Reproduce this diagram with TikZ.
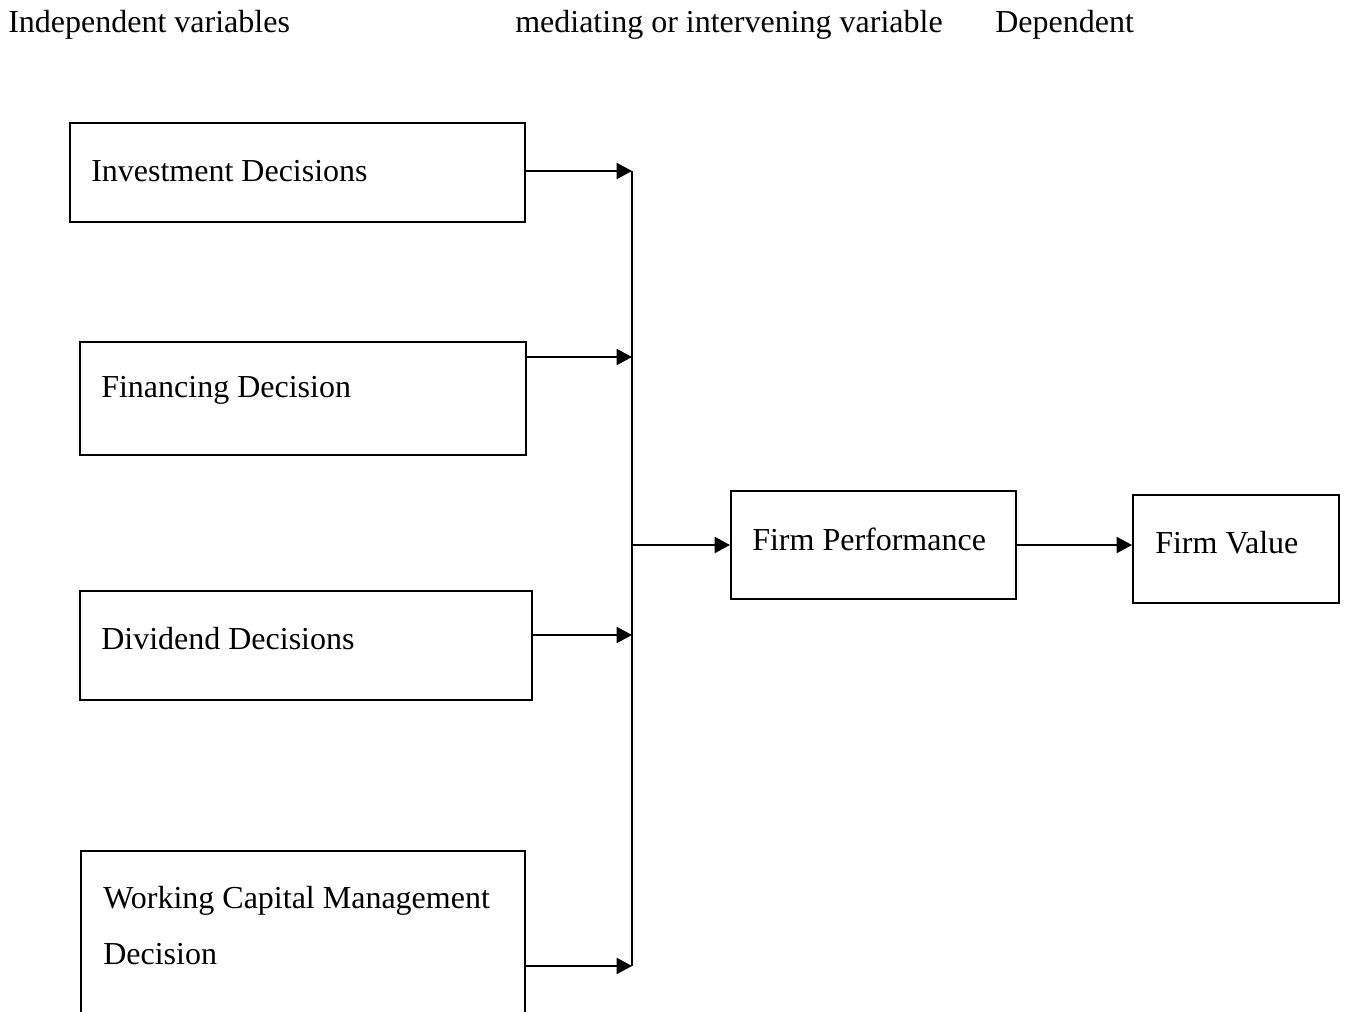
\documentclass[tikz,border=0pt]{standalone}
\usepackage{fontspec}
\setmainfont{Liberation Serif}
\usetikzlibrary{arrows.meta,fit}
\begin{document}
\begin{tikzpicture}[x=0.75pt,y=-0.75pt,
  box/.style={draw,line width=1.5pt,inner sep=0pt},
  lbl/.style={inner sep=0pt,anchor=west,font=\fontsize{24}{42}\selectfont,align=left},
  conn/.style={line width=1.5pt,-{Triangle[length=11.5pt,width=12pt]}},
  trunk/.style={line width=1.5pt}]
\clip (0,0) rectangle (1349,1012);
\fill[white] (0,0) rectangle (1349,1012);
% headers
\node[lbl] (h1) at (8,25) {Independent variables};
\node[lbl] (h2) at (515,25) {mediating or intervening variable};
\node[lbl] (h3) at (995,25) {Dependent};
% boxes
\node[box,fit={(70,123)(525,222)}] (b1) {};
\node[box,fit={(80,342)(526,455)}] (b2) {};
\node[box,fit={(80,591)(532,700)}] (b3) {};
\node[box,fit={(81,851)(525,1040)}] (b4) {};
\node[box,fit={(731,491)(1016,599)}] (fp) {};
\node[box,fit={(1133,495)(1339,603)}] (fv) {};
% labels
\node[lbl] (t1) at (91,171) {Investment Decisions};
\node[lbl] (t2) at (101,390) {Financing Decision};
\node[lbl] (t3) at (101,639) {Dividend Decisions};
\node[lbl] (t4) at (103,926) {Working Capital Management\\Decision};
\node[lbl] (t5) at (752,539) {Firm Performance};
\node[lbl] (t6) at (1155,543) {Firm Value};
% junction coordinates
\coordinate (j1) at (632,171);
\coordinate (j2) at (632,357);
\coordinate (j3) at (632,635);
\coordinate (j4) at (632,966);
\coordinate (jm) at (632,545);
\draw[trunk] (j1) -- (j4);
\draw[conn] (b1.east |- j1) -- (j1);
\draw[conn] (b2.east |- j2) -- (j2);
\draw[conn] (b3.east |- j3) -- (j3);
\draw[conn] (b4.east |- j4) -- (j4);
\draw[conn] (jm) -- (fp.west |- jm);
\draw[conn] (fp.east |- jm) -- (fv.west |- jm);
\end{tikzpicture}
\end{document}
